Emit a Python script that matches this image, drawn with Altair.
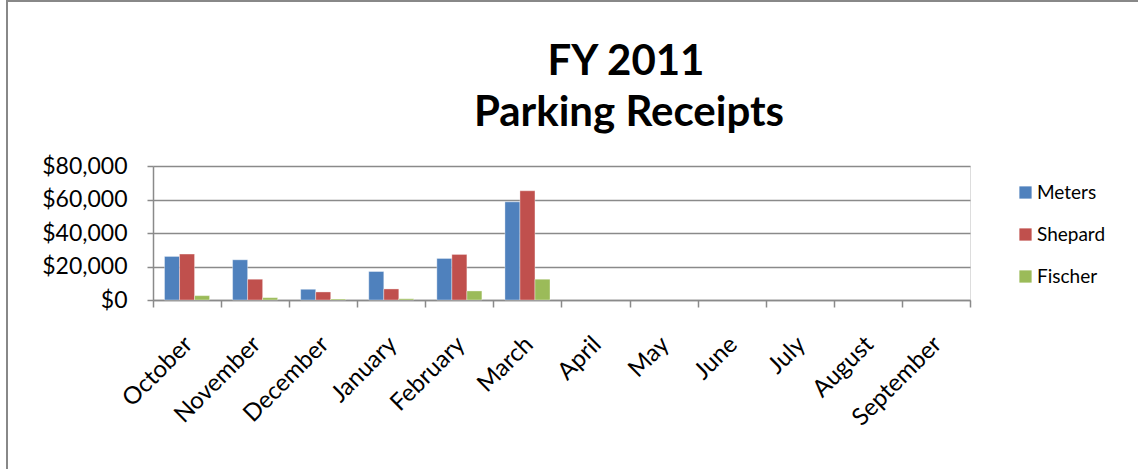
import altair as alt
import pandas as pd

months = ["October", "November", "December", "January", "February", "March",
          "April", "May", "June", "July", "August", "September"]
data_months = ["October", "November", "December", "January", "February", "March"]
meters = [26000, 24000, 6400, 17000, 24800, 58600]
shepard = [27400, 12400, 4800, 6600, 27200, 65200]
fischer = [2600, 1400, 600, 800, 5400, 12400]
series = ["Meters", "Shepard", "Fischer"]
colors = ["#4F81BD", "#C0504D", "#9BBB59"]
title_lines = ["FY 2011", "Parking Receipts"]

rows = []
for i, m in enumerate(data_months):
    rows.append({"month": m, "series": "Meters", "value": meters[i]})
    rows.append({"month": m, "series": "Shepard", "value": shepard[i]})
    rows.append({"month": m, "series": "Fischer", "value": fischer[i]})
df = pd.DataFrame(rows)

FONT = "Lato"
GRID = "#8a8a8a"

bars = alt.Chart(df).mark_bar(stroke="white", strokeWidth=0.6, strokeOpacity=0.6).encode(
    x=alt.X("month:N", sort=months,
            scale=alt.Scale(domain=months, paddingInner=0, paddingOuter=0),
            axis=alt.Axis(title=None, labelAngle=-45, labelFontSize=24, labelFont=FONT,
                          labelColor="black", labelPadding=25, tickBand="extent",
                          tickSize=7, tickColor=GRID, tickWidth=1.5,
                          domainColor=GRID, domainWidth=1.5, grid=False,
                          labelAlign="right", labelBaseline="top", labelOffset=-7)),
    xOffset=alt.XOffset("series:N", sort=series,
                        scale=alt.Scale(paddingInner=0, paddingOuter=0.767)),
    y=alt.Y("value:Q", scale=alt.Scale(domain=[0, 80000]),
            axis=alt.Axis(title=None, values=[0, 20000, 40000, 60000, 80000],
                          format="$,.0f", labelFontSize=23, labelFont=FONT,
                          labelColor="black", labelPadding=20, tickSize=6,
                          tickColor=GRID, tickWidth=1.5, domainColor=GRID,
                          domainWidth=1.5, gridColor=GRID, gridWidth=1.5)),
    color=alt.Color("series:N", sort=series,
                    scale=alt.Scale(domain=series, range=colors),
                    legend=alt.Legend(title=None, orient="none", legendX=863, legendY=17,
                                      symbolType="square", symbolSize=150,
                                      symbolStrokeWidth=0,
                                      labelFont=FONT, labelFontSize=19,
                                      labelColor="black", rowPadding=22,
                                      labelOffset=2)),
)

one = pd.DataFrame({"a": [0]})
border_v = alt.Chart(one).mark_rule(color="#888888", strokeWidth=2).encode(
    x=alt.value(-146), y=alt.value(-166), y2=alt.value(303))
border_h = alt.Chart(one).mark_rule(color="#888888", strokeWidth=2).encode(
    x=alt.value(-146), x2=alt.value(985), y=alt.value(-165))

title1 = alt.Chart(one).mark_text(text=title_lines[0], font=FONT, fontSize=42,
                                  fontWeight="bold", color="black", align="center",
                                  baseline="alphabetic").encode(
    x=alt.value(473), y=alt.value(-91))
title2 = alt.Chart(one).mark_text(text=title_lines[1], font=FONT, fontSize=42,
                                  fontWeight="bold", color="black", align="center",
                                  baseline="alphabetic").encode(
    x=alt.value(476), y=alt.value(-40))

chart = alt.layer(bars, border_v, border_h, title1, title2).properties(
    width=817, height=134,
    autosize=alt.AutoSizeParams(type="none"),
    padding={"left": 153, "top": 166, "right": 168, "bottom": 169},
).configure_view(stroke=None).configure(background="white")

chart.save("out.html", embed_options={"renderer": "svg", "actions": False})
